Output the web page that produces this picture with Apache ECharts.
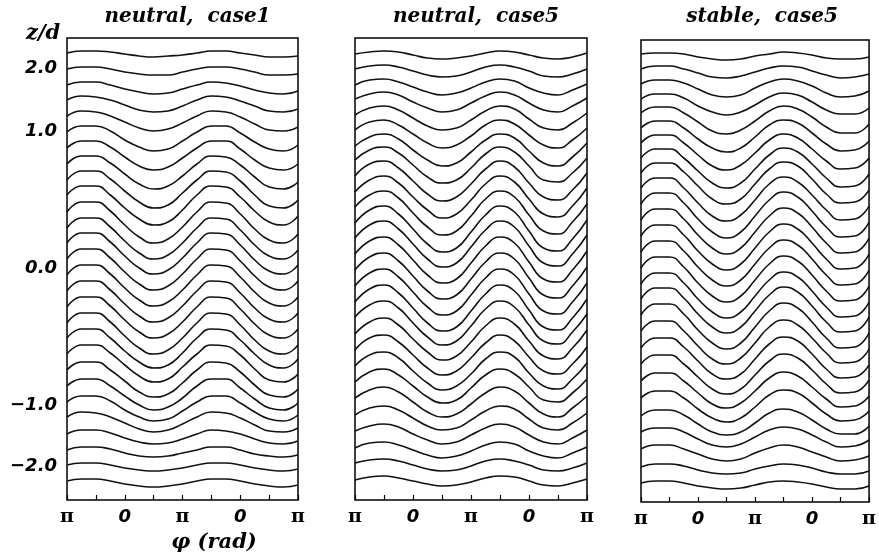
<!DOCTYPE html>
<html>
<head>
<meta charset="utf-8">
<script src="https://cdn.jsdelivr.net/npm/echarts@6.0.0/dist/echarts.min.js"></script>
<style>html,body{margin:0;padding:0;background:#fff}#c{width:879px;height:554px}</style>
</head>
<body>
<div id="c"></div>
<script>
// phi in units of pi
const xSamples = [-1,-0.75,-0.5,-0.25,0,0.25,0.5,0.75,1,1.25,1.5,1.75,2,2.25,2.5,2.75,3];
const xTickPos = [-1,0,1,2,3];
const xTickLabels = ['π','0','π','0','π'];
// vertical plot coordinate (stretched z/d axis)
const yTickPos = [200,137,0,-137,-198];
const yTickLabels = ['2.0','1.0','0.0','−1.0','−2.0'];
const panelTitles = ['neutral,  case1','neutral,  case5','stable,  case5'];

const panel1Lines = [
[215,217,217,216,214,212,211,212,213,215,217,217,215,213,211,211,212],
[199,201,201,199,196,194,193,193,196,199,201,201,199,196,193,193,194],
[183,186,186,183,179,176,174,175,179,183,186,185,182,178,175,174,177],
[168,172,171,168,163,158,156,157,162,168,172,171,167,162,157,156,159],
[152,157,156,152,146,140,137,139,145,152,157,156,151,144,138,137,141],
[136,142,142,137,128,121,117,119,127,136,142,142,135,126,119,117,123],
[120,127,127,121,111,102,98,101,110,120,127,127,119,108,100,98,104],
[104,112,112,105,94,84,79,82,92,104,112,111,103,91,81,79,86],
[88,97,97,89,77,66,60,63,75,88,97,96,87,73,62,60,68],
[73,82,82,73,60,49,43,46,58,73,82,81,71,57,46,43,52],
[56,66,66,57,43,31,25,29,41,56,66,65,54,39,28,25,34],
[40,50,50,41,27,15,9,13,25,40,50,49,38,23,12,9,18],
[25,35,35,26,12,0,-6,-2,10,25,35,34,23,8,-3,-6,3],
[9,19,19,10,-4,-16,-22,-18,-6,9,19,18,7,-8,-19,-22,-13],
[-7,3,3,-6,-20,-32,-38,-34,-22,-7,3,2,-9,-24,-35,-38,-29],
[-23,-13,-13,-22,-36,-48,-54,-50,-38,-23,-13,-14,-25,-40,-51,-54,-45],
[-39,-29,-29,-38,-52,-64,-70,-66,-54,-39,-29,-30,-41,-56,-67,-70,-61],
[-55,-45,-45,-54,-68,-80,-86,-82,-70,-55,-45,-46,-57,-72,-83,-86,-77],
[-70,-61,-61,-70,-83,-94,-100,-97,-85,-70,-61,-62,-72,-86,-97,-100,-91],
[-86,-77,-77,-85,-97,-108,-114,-111,-99,-86,-77,-78,-87,-101,-112,-114,-106],
[-102,-94,-94,-102,-113,-124,-129,-126,-115,-102,-94,-95,-104,-117,-127,-129,-121],
[-118,-111,-111,-118,-128,-137,-142,-139,-130,-118,-111,-111,-120,-131,-140,-142,-135],
[-134,-128,-128,-133,-142,-149,-153,-151,-143,-134,-128,-128,-135,-144,-151,-153,-147],
[-149,-144,-145,-149,-155,-161,-164,-162,-156,-149,-144,-145,-150,-157,-163,-164,-160],
[-166,-162,-162,-165,-170,-174,-176,-175,-171,-166,-162,-163,-166,-171,-175,-176,-173],
[-182,-179,-179,-181,-185,-188,-189,-188,-185,-182,-179,-179,-182,-186,-188,-189,-187],
[-197,-195,-195,-197,-200,-202,-203,-202,-200,-197,-195,-195,-197,-200,-202,-203,-201],
[-213,-211,-211,-213,-216,-218,-219,-218,-216,-213,-211,-211,-213,-216,-218,-219,-217]
];

const panel2Lines = [
[214,216,217,216,213,210,209,210,212,215,217,216,213,210,209,211,215],
[199,202,203,201,197,193,191,192,196,201,203,201,197,192,191,194,199],
[183,188,189,186,181,176,173,175,180,186,189,187,180,175,173,178,184],
[169,174,176,173,166,160,156,158,165,172,176,173,165,158,156,162,170],
[153,160,162,158,150,142,138,140,148,157,162,159,149,140,138,145,155],
[138,146,148,143,134,125,120,123,132,143,148,144,133,123,120,128,140],
[122,131,134,129,118,108,102,105,116,128,134,130,117,105,102,111,125],
[108,118,121,115,103,91,85,88,100,114,121,116,102,88,86,95,110],
[92,104,107,100,87,74,67,71,84,99,107,101,85,71,68,78,95],
[76,88,92,85,71,58,50,54,68,84,92,86,69,54,51,62,80],
[61,73,77,70,55,41,33,37,52,69,77,71,53,37,34,46,64],
[45,58,62,54,39,24,16,20,36,53,62,56,37,20,17,29,48],
[30,43,47,39,24,9,1,5,21,38,47,41,22,5,2,14,33],
[14,27,31,23,8,-7,-15,-11,5,22,31,25,6,-11,-14,-2,17],
[-2,11,15,7,-8,-23,-31,-27,-11,6,15,9,-10,-27,-30,-18,1],
[-18,-5,-1,-9,-24,-39,-47,-43,-27,-10,-1,-7,-26,-43,-46,-34,-15],
[-34,-21,-17,-25,-40,-55,-63,-59,-43,-26,-17,-23,-42,-59,-62,-50,-31],
[-49,-37,-33,-40,-55,-69,-77,-73,-58,-41,-33,-39,-57,-73,-76,-64,-46],
[-66,-54,-50,-57,-71,-84,-92,-88,-74,-58,-50,-56,-73,-88,-91,-80,-62],
[-82,-70,-67,-74,-87,-100,-107,-103,-90,-75,-67,-73,-89,-103,-106,-96,-79],
[-98,-87,-84,-90,-103,-115,-122,-118,-106,-91,-84,-89,-105,-118,-121,-111,-95],
[-114,-104,-101,-107,-118,-129,-135,-132,-120,-107,-101,-106,-119,-132,-134,-125,-111],
[-130,-122,-119,-124,-134,-144,-149,-146,-136,-125,-119,-123,-135,-146,-149,-140,-128],
[-147,-140,-138,-142,-150,-158,-162,-160,-152,-143,-138,-141,-151,-160,-162,-155,-145],
[-163,-158,-156,-159,-166,-172,-176,-174,-167,-160,-156,-159,-167,-174,-176,-170,-162],
[-180,-175,-174,-177,-182,-187,-190,-188,-183,-177,-174,-176,-183,-188,-190,-185,-179],
[-195,-192,-191,-193,-197,-201,-203,-202,-198,-193,-191,-193,-197,-202,-203,-200,-195],
[-212,-209,-208,-210,-213,-216,-218,-217,-214,-210,-208,-209,-213,-217,-218,-215,-211]
];

const panel3Lines = [
[216,217,217,216,213,211,210,211,214,216,218,217,215,212,211,211,213],
[201,204,204,201,197,193,192,194,198,202,204,203,199,195,192,193,196],
[186,190,190,187,181,175,173,175,182,188,191,189,184,177,173,174,179],
[171,176,176,172,164,158,155,158,165,173,177,175,168,160,156,156,162],
[157,163,163,157,148,139,136,140,149,159,164,161,153,143,137,137,146],
[142,149,149,142,131,122,118,122,133,145,150,147,137,126,119,120,129],
[127,135,135,127,115,104,100,105,117,130,136,132,121,109,101,102,112],
[112,121,121,112,99,87,82,87,101,115,122,118,106,92,83,84,96],
[97,107,107,98,84,71,66,71,86,101,108,104,91,76,67,68,80],
[82,92,92,82,67,54,49,55,70,86,93,88,75,60,50,51,64],
[66,77,77,67,51,38,32,38,54,70,78,73,59,43,33,34,48],
[50,61,61,51,35,22,16,22,38,54,62,57,43,27,17,18,32],
[34,45,45,35,19,6,0,6,22,38,46,41,27,11,1,2,16],
[18,29,29,19,3,-10,-16,-10,6,22,30,25,11,-5,-15,-14,0],
[2,13,13,3,-13,-26,-32,-26,-10,6,14,9,-5,-21,-31,-30,-16],
[-14,-3,-3,-13,-29,-42,-48,-42,-26,-10,-2,-7,-21,-37,-47,-46,-32],
[-29,-18,-18,-28,-44,-57,-63,-57,-41,-25,-17,-22,-36,-52,-62,-61,-47],
[-45,-34,-34,-44,-60,-73,-79,-73,-57,-41,-33,-38,-52,-68,-78,-77,-63],
[-61,-51,-51,-61,-76,-89,-94,-88,-73,-57,-50,-55,-68,-83,-93,-92,-79],
[-78,-68,-68,-77,-91,-104,-109,-104,-89,-74,-67,-71,-84,-99,-108,-107,-95],
[-94,-85,-85,-94,-107,-119,-124,-119,-105,-91,-84,-88,-100,-114,-123,-122,-110],
[-111,-103,-103,-111,-123,-134,-138,-133,-121,-108,-102,-106,-117,-129,-137,-136,-126],
[-128,-121,-121,-128,-139,-148,-152,-148,-137,-125,-120,-123,-133,-144,-151,-150,-141],
[-146,-140,-140,-145,-154,-162,-165,-162,-153,-143,-139,-142,-150,-159,-164,-164,-156],
[-162,-158,-158,-162,-169,-175,-177,-174,-167,-160,-157,-159,-165,-172,-177,-176,-170],
[-179,-175,-175,-179,-184,-189,-191,-189,-183,-178,-175,-177,-182,-187,-191,-190,-186],
[-197,-194,-194,-196,-200,-203,-204,-203,-199,-196,-194,-195,-198,-202,-204,-204,-201],
[-213,-211,-211,-213,-216,-218,-219,-218,-215,-212,-211,-212,-214,-217,-219,-219,-216]
];

const panels = [panel1Lines, panel2Lines, panel3Lines];
const gridBoxes = [
  {left: 67, top: 38, width: 231, height: 462},
  {left: 355, top: 38, width: 232, height: 462},
  {left: 641, top: 40, width: 232, height: 462}
];
const serif = "'DejaVu Serif', serif";
const sans = "'DejaVu Sans', sans-serif";

const chart = echarts.init(document.getElementById('c'), null, {renderer: 'canvas'});

const grids = gridBoxes.map(b => Object.assign({show: true, borderColor: '#000', borderWidth: 1.5, backgroundColor: 'transparent'}, b));

const xAxes = gridBoxes.map((b, p) => ({
  type: 'value', gridIndex: p, position: 'bottom', min: -1, max: 3, interval: 0.5,
  axisLine: {show: false, onZero: false},
  axisTick: {show: true, inside: true, length: 5, lineStyle: {color: '#000', width: 1.2}},
  splitLine: {show: false},
  axisLabel: {
    show: true, margin: 8, showMinLabel: true, showMaxLabel: true,
    formatter: function (v) {
      const i = xTickPos.indexOf(v);
      if (i < 0) return '';
      return xTickLabels[i] === 'π' ? '{p|π}' : '{z|' + xTickLabels[i] + '}';
    },
    rich: {
      p: {fontFamily: serif, fontSize: 19, fontWeight: 'bold', color: '#000'},
      z: {fontFamily: sans, fontSize: 18, fontWeight: 'bold', fontStyle: 'italic', color: '#000'}
    }
  }
}));

const yAxes = gridBoxes.map((b, p) => ({
  type: 'value', gridIndex: p, min: -232, max: 230,
  axisLine: {show: false, onZero: false}, axisTick: {show: false}, splitLine: {show: false},
  axisLabel: p === 0 ? {
    show: true, margin: 10, customValues: yTickPos,
    formatter: function (v) { const i = yTickPos.indexOf(v); return i < 0 ? '' : yTickLabels[i]; },
    fontFamily: sans, fontSize: 18, fontWeight: 'bold', fontStyle: 'italic', color: '#000'
  } : {show: false}
}));

const series = [];
panels.forEach((lines, p) => {
  lines.forEach(vals => {
    series.push({
      type: 'line', xAxisIndex: p, yAxisIndex: p,
      data: vals.map((v, k) => [xSamples[k], v]),
      smooth: 0.5, showSymbol: false, silent: true,
      lineStyle: {color: '#111', width: 1.6}
    });
  });
});

const titleStyle = {fontFamily: serif, fontSize: 20, fontWeight: 'bold', fontStyle: 'italic', color: '#000'};
const titles = panelTitles.map((t, p) => ({
  text: t, left: gridBoxes[p].left + gridBoxes[p].width / 2, top: 2, textAlign: 'center',
  textStyle: titleStyle
}));
titles.push({text: 'z/d', left: 21, top: 18, textStyle: {fontFamily: serif, fontSize: 21, fontWeight: 'bold', fontStyle: 'italic', color: '#000'}});
titles.push({text: 'φ (rad)', left: 209, top: 527, textAlign: 'center', textStyle: {fontFamily: serif, fontSize: 21, fontWeight: 'bold', fontStyle: 'italic', color: '#000'}});

chart.setOption({
  animation: false,
  backgroundColor: '#fff',
  title: titles,
  grid: grids,
  xAxis: xAxes,
  yAxis: yAxes,
  series: series
});
</script>
</body>
</html>
